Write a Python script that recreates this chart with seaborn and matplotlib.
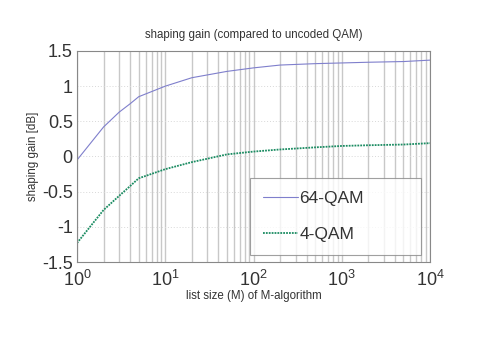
import numpy as np
import pandas as pd
import seaborn as sns
import matplotlib
matplotlib.use("Agg")
import matplotlib.pyplot as plt
from matplotlib.ticker import LogLocator

# list sizes and shaping gains
list_size = [1, 2, 3, 4, 5, 10, 20, 50, 100, 200, 500, 1000, 2000, 5000, 10000]
gain_64qam = [-0.05, 0.42, 0.63, 0.75, 0.85, 1.00, 1.12, 1.21, 1.26, 1.30, 1.32, 1.33, 1.34, 1.35, 1.37]
gain_4qam = [-1.23, -0.76, -0.56, -0.42, -0.31, -0.18, -0.08, 0.03, 0.07, 0.10, 0.13, 0.15, 0.16, 0.17, 0.19]
series_names = ["64-QAM", "4-QAM"]
y_ticks = [-1.5, -1, -0.5, 0, 0.5, 1, 1.5]
y_ticklabels = ["-1.5", "-1", "-0.5", "0", "0.5", "1", "1.5"]

df = pd.concat([
    pd.DataFrame({"M": list_size, "gain": gain_64qam, "mod": series_names[0]}),
    pd.DataFrame({"M": list_size, "gain": gain_4qam, "mod": series_names[1]}),
])

sns.set_style("white")
plt.rcParams['font.family'] = ['Liberation Sans', 'DejaVu Sans']

fig = plt.figure(figsize=(4.85, 3.42), dpi=100)
ax = fig.add_axes([0.1588, 0.2339, 0.7278, 0.617])

colors = {"64-QAM": "#7f7fcc", "4-QAM": "#1b8c62"}
sns.lineplot(data=df[df["mod"] == "64-QAM"], x="M", y="gain", color=colors["64-QAM"],
             lw=0.8, label="64-QAM", ax=ax)
sns.lineplot(data=df[df["mod"] == "4-QAM"], x="M", y="gain", color=colors["4-QAM"],
             lw=1.3, ls=(0, (1, 0.6)), label="4-QAM", ax=ax)

ax.set_xscale("log")
ax.set_xlim(1, 1e4)
ax.set_ylim(-1.5, 1.5)
ax.set_yticks(y_ticks)
ax.set_yticklabels(y_ticklabels)
ax.xaxis.set_major_locator(LogLocator(base=10, numticks=10))
ax.xaxis.set_minor_locator(LogLocator(base=10, subs=np.arange(2, 10), numticks=20))

# vertical grid on every decade sub-tick, horizontal dotted
ax.grid(True, which="both", axis="x", color="#c8c8c8", lw=1.0, ls="-")
ax.grid(True, which="major", axis="y", color="#d8d8d8", lw=0.7, ls=(0, (1, 2)))
ax.set_axisbelow(True)

ax.tick_params(axis="y", which="major", labelsize=13, colors="#333333", length=3,
               direction="in", pad=3)
ax.tick_params(axis="x", which="major", labelsize=13, colors="#333333", length=3,
               direction="in", pad=6)
ax.tick_params(axis="x", which="minor", length=2, direction="in")
for s in ax.spines.values():
    s.set_color("#888888")
    s.set_linewidth(0.8)

ax.set_title("shaping gain (compared to uncoded QAM)", fontsize=8.3, color="#333333", pad=9)
ax.set_xlabel("list size (M) of M-algorithm", fontsize=8.3, color="#333333", labelpad=0)
ax.set_ylabel("shaping gain [dB]", fontsize=8.3, color="#333333", labelpad=2)

leg = ax.legend(loc="lower left", mode="expand", bbox_to_anchor=(0.49, 0.033, 0.484, 0.365),
                fontsize=12.5, frameon=True, fancybox=False, edgecolor="#888888",
                handlelength=2.0, handletextpad=0.1, labelspacing=1.2,
                borderpad=0.75, borderaxespad=0.0)
leg.get_frame().set_linewidth(0.8)
for t in leg.get_texts():
    t.set_color("#333333")

fig.savefig("out.png", dpi=100)
